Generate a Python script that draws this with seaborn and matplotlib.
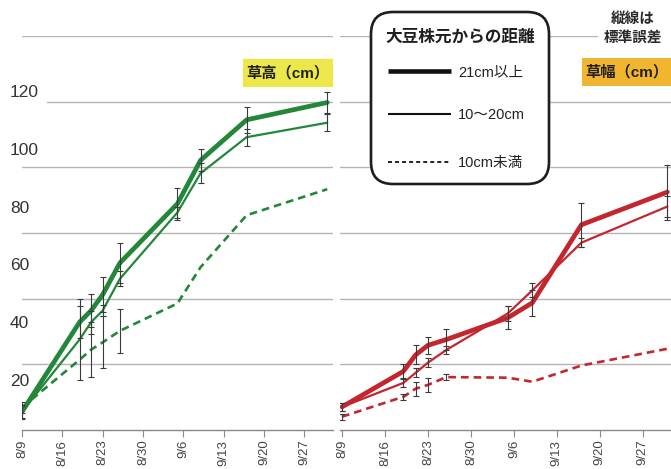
import numpy as np
import pandas as pd
import matplotlib
matplotlib.use("Agg")
import matplotlib.pyplot as plt
from matplotlib.patches import FancyBboxPatch, Rectangle
import seaborn as sns

# ---- data -------------------------------------------------------------
dates = ["8/9", "8/19", "8/21", "8/23", "8/26", "9/5", "9/9", "9/17", "10/1"]

# plant height (cm) by distance from soybean stem base
height_21 = [9, 40, 44, 49.5, 60.5, 81, 96, 110, 116]
height_10_20 = [9, 34, 40, 44, 55, 78, 91.5, 104, 109]
height_under10 = [10.5, 27, 30.5, 33, 37, 46.5, 59, 77, 86]
height_21_se = [2, 5.5, 5.7, 6, 7, 5.5, 3.8, 4.5, 3.5]
height_10_20_se = [2.5, 14, 4, 2, 2.6, 2, 3.5, 3, 2.9]
height_under10_se = [2, np.nan, 9.5, 9, 7.6, np.nan, np.nan, np.nan, np.nan]

# plant width (cm)
width_21 = [10.7, 23, 28.7, 32, 34, 41.5, 46.7, 73.7, 85]
width_10_20 = [10.7, 19, 22.5, 26, 30.4, 43, 51, 67.5, 80]
width_under10 = [7.3, 14.2, 17, 18.3, 21, 20.8, 19.4, 25, 30.8]
width_21_se = [1.4, 2.4, 3.3, 3, 3.5, 4, 4.5, 7.6, 9.5]
width_10_20_se = [1.4, 1.5, 1.5, 1.5, 1.5, 2.5, 2.4, 1.5, 3.5]
width_under10_se = [1, 1, 2.4, 2.4, 1, np.nan, np.nan, np.nan, np.nan]

tick_labels = ["8/9", "8/16", "8/23", "8/30", "9/6", "9/13", "9/20", "9/27"]
y_ticks = [20, 40, 60, 80, 100, 120]

legend_labels = ["21cm以上", "10〜20cm", "10cm未満"]

# ---- style ------------------------------------------------------------
sns.set_style("white")
plt.rcParams["font.family"] = ["Liberation Sans", "Noto Sans CJK JP"]

GREEN = "#23873A"
RED = "#C4262E"
GRID = "#b4b4b4"
AXIS = "#8a8a8a"

base = pd.Timestamp("2020-08-09")
days = np.array([(pd.Timestamp("2020/" + d) - base).days for d in dates])
tick_days = np.array([(pd.Timestamp("2020/" + d) - base).days for d in tick_labels])

W, H = 671, 469
fig = plt.figure(figsize=(W / 100, H / 100), dpi=100)

y_lo, y_hi = 2.7, 139.0
ax_bottom = (H - 430) / H
ax_height = 394 / H
ax_l = fig.add_axes([22 / W, ax_bottom, 311 / W, ax_height])
ax_r = fig.add_axes([340 / W, ax_bottom, 331 / W, ax_height])

series = {
    ax_l: (GREEN, [(height_21, height_21_se), (height_10_20, height_10_20_se),
                   (height_under10, height_under10_se)]),
    ax_r: (RED, [(width_21, width_21_se), (width_10_20, width_10_20_se),
                 (width_under10, width_under10_se)]),
}
line_kw = [dict(linewidth=3.4), dict(linewidth=1.6),
           dict(linewidth=1.9, dashes=(2.9, 1.9))]

for ax, (color, groups) in series.items():
    grid_vals = np.linspace(y_lo, y_hi, 7)[1:]
    for i, gv in enumerate(grid_vals):
        xmin = 0.08 if (ax is ax_l and i == 4) else 0
        ax.axhline(gv, xmin=xmin, color=GRID, lw=1.0, zorder=0)
    for (vals, se), kw in zip(groups, line_kw):
        sns.lineplot(x=days, y=vals, ax=ax, color=color, zorder=2, **kw)
        se = np.asarray(se, dtype=float)
        ok = ~np.isnan(se)
        ax.errorbar(days[ok], np.asarray(vals)[ok], yerr=se[ok], fmt="none",
                    ecolor="#3a3a3a", elinewidth=0.8, capsize=2.2,
                    capthick=0.8, zorder=4)
    ax.set_ylim(y_lo, y_hi)
    ax.set_xticks(tick_days)
    ax.set_xticklabels(tick_labels, rotation=90)
    ax.tick_params(axis="x", length=5, width=0.8, color=AXIS, labelsize=9.5,
                   labelcolor="#444444", pad=2, bottom=True)
    for side in ("top", "right", "left"):
        ax.spines[side].set_visible(False)
    ax.spines["bottom"].set_color(AXIS)
    ax.spines["bottom"].set_linewidth(1.0)
    ax.set_xlabel("")
    ax.set_ylabel("")
    ax.patch.set_alpha(0)

ax_l.set_xlim(0, 54)
ax_r.set_xlim(-0.33, 53.6)

ax_l.set_yticks(y_ticks)
ax_l.set_yticklabels([str(v) for v in y_ticks])
ax_l.tick_params(axis="y", length=0, pad=8.6, labelsize=12.5,
                 labelcolor="#333333", left=True)
for t in ax_l.get_yticklabels():
    t.set_ha("left")
ax_r.set_yticks([])

# ---- annotations in pixel space ----------------------------------------
ov = fig.add_axes([0, 0, 1, 1], zorder=10)
ov.set_xlim(0, W)
ov.set_ylim(H, 0)
ov.axis("off")
ov.patch.set_alpha(0)

# panel titles
ov.add_patch(Rectangle((243, 59), 90, 28, fc="#EDE84A", ec="none"))
ov.text(288, 73, "草高（cm）", ha="center", va="center", fontsize=11,
        fontweight="bold", color="#222222")
ov.add_patch(Rectangle((582, 58), 89, 28, fc="#F2B530", ec="none"))
ov.text(626.5, 72, "草幅（cm）", ha="center", va="center", fontsize=11,
        fontweight="bold", color="#222222")

# note on error bars
ov.add_patch(Rectangle((598, 8), 73, 40, fc="white", ec="none"))
ov.text(633, 19, "縦線は", ha="center", va="center", fontsize=10.5,
        fontweight="bold", color="#2a2a2a")
ov.text(633, 38, "標準誤差", ha="center", va="center", fontsize=10.5,
        fontweight="bold", color="#2a2a2a")

# legend box
ov.add_patch(FancyBboxPatch((371, 12), 178, 172,
                            boxstyle="round,pad=0,rounding_size=22",
                            fc="white", ec="#1e1e1e", lw=1.9))
ov.text(460, 37, "大豆株元からの距離", ha="center", va="center",
        fontsize=12, fontweight="bold", color="#1e1e1e")
leg_y = [71, 114, 162]
leg_kw = [dict(lw=3.3), dict(lw=1.5), dict(lw=1.3, dashes=(2.2, 1.7))]
for y, lab, kw in zip(leg_y, legend_labels, leg_kw):
    ov.plot([388, 451], [y, y], color="#111111", solid_capstyle="butt",
            dash_capstyle="butt", **kw)
    ov.text(458, y + 1, lab, ha="left", va="center", fontsize=10.5,
            color="#222222")

fig.savefig("out.png", dpi=100)
